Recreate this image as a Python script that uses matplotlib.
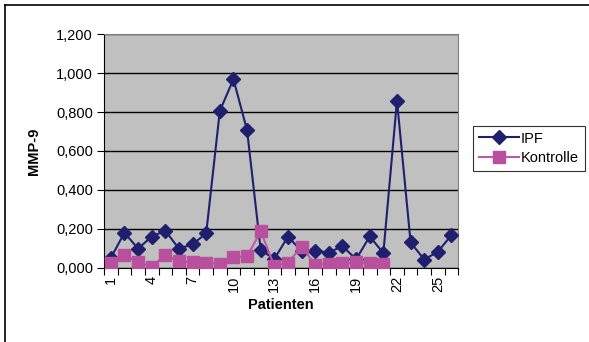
import matplotlib
matplotlib.use("Agg")
import matplotlib.pyplot as plt
import matplotlib.ticker as mticker
from matplotlib.lines import Line2D
import numpy as np

# Daten
patienten = list(range(1, 27))
ipf = [0.050, 0.180, 0.098, 0.160, 0.190, 0.098, 0.120, 0.177, 0.806, 0.969,
       0.706, 0.091, 0.045, 0.160, 0.085, 0.087, 0.078, 0.111, 0.043, 0.161,
       0.075, 0.859, 0.130, 0.042, 0.082, 0.168]
kontrolle = [0.026, 0.063, 0.029, 0.005, 0.067, 0.033, 0.029, 0.026, 0.019, 0.055,
             0.058, 0.187, 0.009, 0.026, 0.108, 0.015, 0.021, 0.022, 0.027, 0.024,
             0.021]
xticklabels = [1, 4, 7, 10, 13, 16, 19, 22, 25]
yticks = [0.0, 0.2, 0.4, 0.6, 0.8, 1.0, 1.2]

plt.rcParams['font.family'] = ['Liberation Sans', 'DejaVu Sans']

fig = plt.figure(figsize=(5.89, 3.42), dpi=100)
ax = fig.add_axes([104 / 589, 1 - 267.7 / 342, 354.3 / 589, 233.4 / 342])
ax.set_facecolor('#C0C0C0')

ax.plot(patienten, ipf, color='#1F1F6E', lw=1.5, marker='D', ms=7,
        label='IPF', zorder=3)
ax.plot(patienten[:len(kontrolle)], kontrolle, color='#C058A8', lw=1.5,
        marker='s', ms=8, mfc='#B8509E', mec='#B8509E', label='Kontrolle', zorder=4)

ax.set_xlim(0.5, 26.5)
ax.set_ylim(0, 1.2)
ax.set_yticks(yticks)
ax.yaxis.set_major_formatter(mticker.FuncFormatter(lambda v, p: f"{v:.3f}".replace('.', ',')))
ax.grid(axis='y', color='black', lw=1)
ax.set_axisbelow(True)

# Striche zwischen den Kategorien, Beschriftung in der Mitte
ax.set_xticks(np.arange(0.5, 27, 1))
ax.set_xticklabels([])
ax.set_xticks(xticklabels, minor=True)
ax.set_xticklabels([str(v) for v in xticklabels], minor=True, rotation=90)
ax.tick_params(axis='x', which='major', direction='out', length=5, color='black')
ax.tick_params(axis='x', which='minor', length=0, pad=6, labelsize=10.5)
ax.tick_params(axis='y', direction='out', length=5, labelsize=10.5, pad=3)

for s in ['top', 'right']:
    ax.spines[s].set_color('#808080')
for s in ['left', 'bottom']:
    ax.spines[s].set_color('black')

ax.set_ylabel('MMP-9', fontsize=10.5, fontweight='bold', labelpad=11)
ax.set_xlabel('Patienten', fontsize=10.5, fontweight='bold', labelpad=4)

leg = fig.legend(loc='upper left', bbox_to_anchor=(472.7 / 589, 1 - 125.7 / 342),
                 borderaxespad=0, frameon=True, fancybox=False, edgecolor='black',
                 fontsize=10.5, handlelength=2.8, borderpad=0.4, labelspacing=0.4,
                 handletextpad=0.1)
leg.get_frame().set_linewidth(0.8)

# Rahmen des Diagramms
fig.add_artist(Line2D([5 / 589, 1], [1 - 5 / 342, 1 - 5 / 342], color='black', lw=1.2))
fig.add_artist(Line2D([5 / 589, 5 / 589], [0, 1 - 5 / 342], color='black', lw=1.2))

fig.savefig('out.png', dpi=100)
